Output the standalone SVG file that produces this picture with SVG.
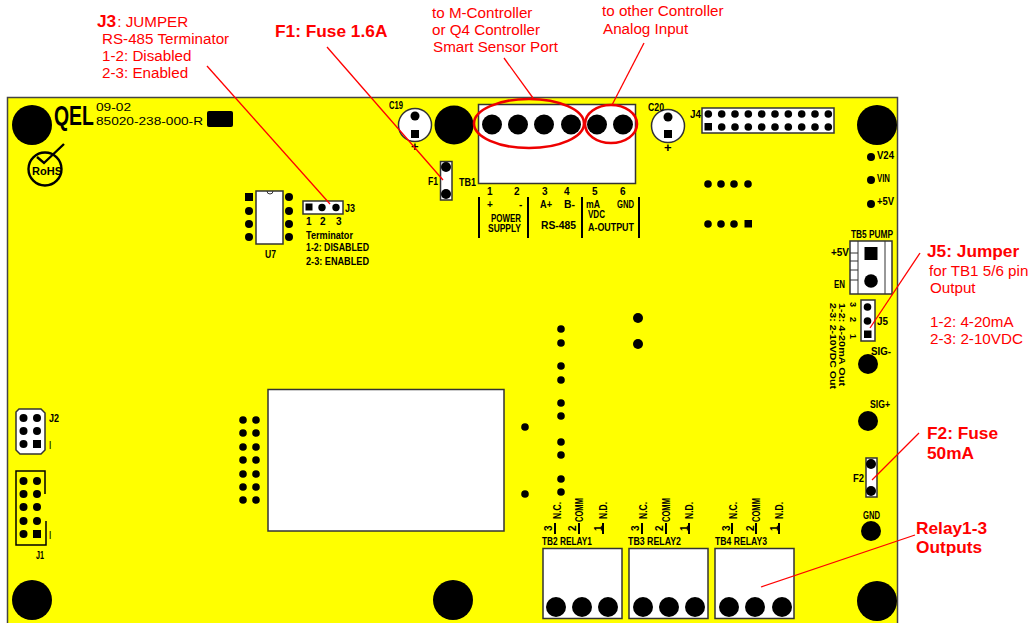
<svg xmlns="http://www.w3.org/2000/svg" width="1030" height="623" viewBox="0 0 1030 623">
<style>
.w{fill:#fff;stroke:#333;stroke-width:1.5}
.k{fill:#000;stroke:none}
.pl{stroke:#000;stroke-width:2;fill:none}
.t{font-family:"Liberation Sans",Arial,sans-serif;font-weight:bold;font-size:10px;fill:#000;stroke:none}
.r{font-family:"Liberation Sans",Arial,sans-serif;font-size:15.200px;fill:#f00}
.rb{font-family:"Liberation Sans",Arial,sans-serif;font-size:17.300px;font-weight:bold;fill:#f00}
.c{stroke:#f00;stroke-width:1.3;fill:none}
.e{stroke:#e00;stroke-width:2.6;fill:none}
</style>
<rect width="1030" height="623" fill="#fff"/>
<g id="board">
<rect x="7.500" y="97.500" width="890" height="540" fill="#ff0" stroke="#444" stroke-width="1.500"/>
<g class="k">
<circle cx="32" cy="125" r="20"/><circle cx="454" cy="125" r="19.500"/><circle cx="877" cy="125" r="20"/>
<circle cx="32" cy="600" r="20"/><circle cx="453" cy="600" r="20"/><circle cx="877" cy="601" r="20"/>
</g>
<text class="t" transform="translate(54 125) scale(0.97 1.400)" style="font-size:20px">QEL</text>
<text class="t" x="96" y="111" style="font-size:10px;font-weight:normal" textLength="35" lengthAdjust="spacingAndGlyphs">09-02</text>
<text class="t" x="96" y="125" style="font-size:11.500px;font-weight:normal" textLength="107" lengthAdjust="spacingAndGlyphs">85020-238-000-R</text>
<rect class="k" x="207" y="111" width="26" height="16" rx="2"/>
</g>
<g id="rohs">
<circle cx="45" cy="169" r="16.500" fill="none" stroke="#000" stroke-width="2.400"/>
<path d="M37 157L44 163L64 144" fill="none" stroke="#000" stroke-width="2.400"/>
<text class="t" x="32" y="175" style="font-size:11px" textLength="30" lengthAdjust="spacingAndGlyphs">RoHS</text>
</g>
<g id="u7">
<rect class="w" x="256" y="191" width="27" height="53"/>
<path d="M267 191a3 3 0 0 0 6 0" fill="none" stroke="#333"/>
<rect class="k" x="245" y="193" width="8" height="8"/>
<g class="k"><circle cx="249" cy="211" r="4"/><circle cx="249" cy="224" r="4"/><circle cx="249" cy="237" r="4"/><circle cx="289" cy="197" r="4"/><circle cx="289" cy="211" r="4"/><circle cx="289" cy="224" r="4"/><circle cx="289" cy="237" r="4"/></g>
<text class="t" x="265" y="258" textLength="11" lengthAdjust="spacingAndGlyphs">U7</text>
</g>
<g id="j3">
<rect class="w" x="303" y="201" width="40" height="13"/>
<rect class="k" x="305.500" y="203.500" width="7" height="7"/>
<circle class="k" cx="322" cy="207.500" r="3.700"/><circle class="k" cx="336" cy="207.500" r="3.700"/>
<text class="t" x="345" y="212" textLength="10" lengthAdjust="spacingAndGlyphs">J3</text>
<text class="t" x="306" y="225">1</text><text class="t" x="320" y="225">2</text><text class="t" x="336" y="225">3</text>
<text class="t" x="306" y="239" textLength="47" lengthAdjust="spacingAndGlyphs">Terminator</text>
<text class="t" x="306" y="251" textLength="63" lengthAdjust="spacingAndGlyphs">1-2: DISABLED</text>
<text class="t" x="306" y="265" textLength="63" lengthAdjust="spacingAndGlyphs">2-3: ENABLED</text>
</g>
<g id="c19">
<circle class="w" cx="415" cy="125" r="16.500"/>
<circle class="k" cx="415" cy="116" r="4.500"/><rect class="k" x="411" y="130" width="8" height="8"/>
<text class="t" x="389" y="109" textLength="14" lengthAdjust="spacingAndGlyphs">C19</text>
<text class="t" x="411" y="151" style="font-size:13px">+</text>
</g>
<g id="f1">
<rect class="w" x="440.500" y="161.500" width="11.500" height="38.500"/>
<circle class="k" cx="446" cy="167" r="5"/><circle class="k" cx="446" cy="194" r="5"/>
<text class="t" x="428" y="185" textLength="10" lengthAdjust="spacingAndGlyphs">F1</text>
<text class="t" x="459" y="186" style="font-size:11px" textLength="17" lengthAdjust="spacingAndGlyphs">TB1</text>
</g>
<g id="tb1">
<rect class="w" x="478.500" y="104.500" width="157" height="79"/>
<g class="k"><circle cx="492" cy="124.500" r="10"/><circle cx="518" cy="124.500" r="10"/><circle cx="544" cy="124.500" r="10"/><circle cx="571" cy="124.500" r="10"/><circle cx="597" cy="124.500" r="10"/><circle cx="623" cy="124.500" r="10"/></g>
<g class="pl"><path d="M479 197V238M528 197V238M582 197V238M639 197V238"/></g>
<text class="t" x="487" y="195">1</text><text class="t" x="514" y="195">2</text><text class="t" x="542" y="195">3</text><text class="t" x="564" y="195">4</text><text class="t" x="592" y="195">5</text><text class="t" x="620" y="195">6</text>
<text class="t" x="487" y="208">+</text><text class="t" x="519" y="208">-</text><text class="t" x="540" y="208" textLength="12" lengthAdjust="spacingAndGlyphs">A+</text><text class="t" x="564" y="208" textLength="11" lengthAdjust="spacingAndGlyphs">B-</text>
<text class="t" x="586" y="208" textLength="14" lengthAdjust="spacingAndGlyphs">mA</text><text class="t" x="617" y="208" textLength="17" lengthAdjust="spacingAndGlyphs">GND</text>
<text class="t" x="588" y="218" textLength="17" lengthAdjust="spacingAndGlyphs">VDC</text>
<text class="t" x="491" y="222" textLength="30" lengthAdjust="spacingAndGlyphs">POWER</text>
<text class="t" x="488" y="232" textLength="33" lengthAdjust="spacingAndGlyphs">SUPPLY</text>
<text class="t" x="541" y="229" textLength="35" lengthAdjust="spacingAndGlyphs">RS-485</text>
<text class="t" x="588" y="231" textLength="46" lengthAdjust="spacingAndGlyphs">A-OUTPUT</text>
</g>
<g id="c20">
<circle class="w" cx="668" cy="126" r="16.500"/>
<circle class="k" cx="668" cy="117" r="4.500"/><rect class="k" x="664" y="130" width="8" height="8"/>
<text class="t" x="648" y="111" textLength="16" lengthAdjust="spacingAndGlyphs">C20</text>
<text class="t" x="664" y="152" style="font-size:13px">+</text>
</g>
<g id="j4">
<rect class="w" x="702" y="108" width="132" height="25"/>
<text class="t" x="690" y="118" textLength="11" lengthAdjust="spacingAndGlyphs">J4</text>
<g class="k">
<circle cx="708.300" cy="114" r="3.800"/><circle cx="721.700" cy="114" r="3.800"/><circle cx="735" cy="114" r="3.800"/><circle cx="748.300" cy="114" r="3.800"/><circle cx="761.700" cy="114" r="3.800"/><circle cx="775" cy="114" r="3.800"/><circle cx="788.300" cy="114" r="3.800"/><circle cx="801.700" cy="114" r="3.800"/><circle cx="815" cy="114" r="3.800"/><circle cx="828.300" cy="114" r="3.800"/>
<rect x="704.500" y="123" width="7.500" height="7.500"/><circle cx="721.700" cy="127" r="3.800"/><circle cx="735" cy="127" r="3.800"/><circle cx="748.300" cy="127" r="3.800"/><circle cx="761.700" cy="127" r="3.800"/><circle cx="775" cy="127" r="3.800"/><circle cx="788.300" cy="127" r="3.800"/><circle cx="801.700" cy="127" r="3.800"/><circle cx="815" cy="127" r="3.800"/><circle cx="828.300" cy="127" r="3.800"/>
</g>
</g>
<g id="pads" class="k">
<circle cx="708" cy="184" r="3.800"/><circle cx="721" cy="184" r="3.800"/><circle cx="734" cy="184" r="3.800"/><circle cx="748" cy="184" r="3.800"/>
<circle cx="708" cy="224" r="3.800"/><circle cx="721" cy="224" r="3.800"/><circle cx="734" cy="224" r="3.800"/><rect x="744.500" y="220" width="7.500" height="7.500"/>
<circle cx="638" cy="318" r="5"/><circle cx="638" cy="344" r="5"/>
<circle cx="561" cy="329" r="3.800"/><circle cx="561" cy="343" r="3.800"/><circle cx="561" cy="366" r="3.800"/><circle cx="561" cy="380" r="3.800"/><circle cx="561" cy="403" r="3.800"/><circle cx="561" cy="416" r="3.800"/><circle cx="561" cy="442" r="3.800"/><circle cx="561" cy="455" r="3.800"/><circle cx="561" cy="479" r="3.800"/><circle cx="561" cy="492" r="3.800"/>
<circle cx="525" cy="427" r="3.800"/><circle cx="525" cy="494" r="3.800"/>
<circle cx="243" cy="420" r="3.800"/><circle cx="256" cy="420" r="3.800"/><circle cx="243" cy="433" r="3.800"/><circle cx="256" cy="433" r="3.800"/><circle cx="243" cy="447" r="3.800"/><circle cx="256" cy="447" r="3.800"/><circle cx="243" cy="460" r="3.800"/><circle cx="256" cy="460" r="3.800"/><circle cx="243" cy="474" r="3.800"/><circle cx="256" cy="474" r="3.800"/><circle cx="243" cy="487" r="3.800"/><circle cx="256" cy="487" r="3.800"/><circle cx="243" cy="500" r="3.800"/><circle cx="256" cy="500" r="3.800"/>
</g>
<g id="module"><rect class="w" x="268" y="389.500" width="236" height="141.500"/></g>
<g id="testpoints">
<g class="k"><circle cx="871" cy="157" r="4"/><circle cx="871" cy="180" r="4"/><circle cx="871" cy="204" r="4"/><circle cx="868" cy="364" r="10"/><circle cx="868" cy="421" r="10"/><circle cx="871" cy="531" r="10"/></g>
<text class="t" x="877" y="159" textLength="17" lengthAdjust="spacingAndGlyphs">V24</text>
<text class="t" x="877" y="182" textLength="13" lengthAdjust="spacingAndGlyphs">VIN</text>
<text class="t" x="877" y="205" textLength="17" lengthAdjust="spacingAndGlyphs">+5V</text>
<text class="t" x="871" y="355" textLength="20" lengthAdjust="spacingAndGlyphs">SIG-</text>
<text class="t" x="870" y="408" textLength="20" lengthAdjust="spacingAndGlyphs">SIG+</text>
<text class="t" x="863" y="519" textLength="17" lengthAdjust="spacingAndGlyphs">GND</text>
</g>
<g id="tb5">
<rect class="w" x="850" y="241" width="42" height="53"/>
<path d="M858 241V294M885 241V294M850 253H858M850 261H858M850 270H858M850 280H858" stroke="#333" fill="none"/>
<rect class="k" x="864.500" y="247" width="13" height="13"/><circle class="k" cx="871" cy="281" r="6.800"/>
<text class="t" x="851" y="238" textLength="42" lengthAdjust="spacingAndGlyphs">TB5 PUMP</text>
<text class="t" x="831" y="256" textLength="18" lengthAdjust="spacingAndGlyphs">+5V</text>
<text class="t" x="834" y="288" textLength="11" lengthAdjust="spacingAndGlyphs">EN</text>
</g>
<g id="j5">
<rect class="w" x="861" y="300" width="14" height="41"/>
<circle class="k" cx="867.500" cy="307" r="3.800"/><circle class="k" cx="867.500" cy="321" r="3.800"/><rect class="k" x="864" y="330.500" width="7.500" height="7.500"/>
<text class="t" x="877" y="325" textLength="11" lengthAdjust="spacingAndGlyphs">J5</text>
<text class="t" transform="translate(850 302) rotate(90)" style="font-size:9px">3</text>
<text class="t" transform="translate(850 317) rotate(90)" style="font-size:9px">2</text>
<text class="t" transform="translate(850 334) rotate(90)" style="font-size:9px">1</text>
<text class="t" transform="translate(839 303) rotate(90)" textLength="83" lengthAdjust="spacingAndGlyphs" style="font-size:9.500px">1-2: 4-20mA  Out</text>
<text class="t" transform="translate(830 303) rotate(90)" textLength="86" lengthAdjust="spacingAndGlyphs" style="font-size:9.500px">2-3: 2-10VDC  Out</text>
</g>
<g id="f2">
<rect class="w" x="866" y="458" width="11" height="39"/>
<circle class="k" cx="871" cy="464" r="5"/><circle class="k" cx="871" cy="491" r="5"/>
<text class="t" x="853" y="482" textLength="11" lengthAdjust="spacingAndGlyphs">F2</text>
</g>
<g id="j2">
<path class="w" d="M19 409H41L45 413V450L41 454H20L16 450V412Z"/>
<g class="k"><circle cx="23.500" cy="418" r="4"/><circle cx="37" cy="418" r="4"/><circle cx="23.500" cy="431" r="4"/><circle cx="37" cy="431" r="4"/><circle cx="23.500" cy="444" r="4"/><rect x="33" y="440" width="8" height="8"/></g>
<text class="t" x="49" y="422" textLength="10" lengthAdjust="spacingAndGlyphs">J2</text>
<text class="t" x="49" y="449" style="font-weight:normal">l</text>
</g>
<g id="j1">
<path d="M45 494V471H16V545H46V521" fill="none" stroke="#000" stroke-width="1.500"/>
<g class="k"><circle cx="23.500" cy="481" r="4"/><circle cx="37" cy="481" r="4"/><circle cx="23.500" cy="494" r="4"/><circle cx="37" cy="494" r="4"/><circle cx="23.500" cy="507" r="4"/><circle cx="37" cy="507" r="4"/><circle cx="23.500" cy="521" r="4"/><circle cx="37" cy="521" r="4"/><circle cx="23.500" cy="534" r="4"/><rect x="33" y="530" width="8" height="8"/></g>
<text class="t" x="36" y="559" textLength="8" lengthAdjust="spacingAndGlyphs">J1</text>
<text class="t" x="49" y="539" style="font-weight:normal">l</text>
</g>
<g id="tb2">
<rect class="w" x="543" y="548.500" width="79" height="70"/>
<g class="k"><circle cx="556" cy="607" r="10"/><circle cx="582" cy="607" r="10"/><circle cx="608" cy="607" r="10"/></g>
<text class="t" x="542" y="545" textLength="50" lengthAdjust="spacingAndGlyphs">TB2 RELAY1</text>
<path class="pl" d="M555 523V534M579 523V534M603 523V534" stroke-width="1.500"/>
<text class="t" transform="translate(561 519) rotate(-90)" textLength="17" lengthAdjust="spacingAndGlyphs">N.C.</text>
<text class="t" transform="translate(583 522) rotate(-90)" textLength="24" lengthAdjust="spacingAndGlyphs">COMM</text>
<text class="t" transform="translate(607 519) rotate(-90)" textLength="17" lengthAdjust="spacingAndGlyphs">N.D.</text>
<text class="t" transform="translate(552 531) rotate(-90)">3</text>
<text class="t" transform="translate(576 531) rotate(-90)">2</text>
<text class="t" transform="translate(602 531) rotate(-90)">1</text>
</g>
<g id="tb3">
<rect class="w" x="629" y="548.500" width="79" height="70"/>
<g class="k"><circle cx="643" cy="607" r="10"/><circle cx="669" cy="607" r="10"/><circle cx="695" cy="607" r="10"/></g>
<text class="t" x="628" y="545" textLength="53" lengthAdjust="spacingAndGlyphs">TB3 RELAY2</text>
<path class="pl" d="M642 523V534M666 523V534M689 523V534" stroke-width="1.500"/>
<text class="t" transform="translate(647 519) rotate(-90)" textLength="17" lengthAdjust="spacingAndGlyphs">N.C.</text>
<text class="t" transform="translate(670 522) rotate(-90)" textLength="24" lengthAdjust="spacingAndGlyphs">COMM</text>
<text class="t" transform="translate(693 519) rotate(-90)" textLength="17" lengthAdjust="spacingAndGlyphs">N.D.</text>
<text class="t" transform="translate(639 531) rotate(-90)">3</text>
<text class="t" transform="translate(663 531) rotate(-90)">2</text>
<text class="t" transform="translate(688 531) rotate(-90)">1</text>
</g>
<g id="tb4">
<rect class="w" x="715" y="548.500" width="79" height="70"/>
<g class="k"><circle cx="729" cy="607" r="10"/><circle cx="755" cy="607" r="10"/><circle cx="782" cy="607" r="10"/></g>
<text class="t" x="715" y="545" textLength="52" lengthAdjust="spacingAndGlyphs">TB4 RELAY3</text>
<path class="pl" d="M732 523V534M756 523V534M779 523V534" stroke-width="1.500"/>
<text class="t" transform="translate(737 519) rotate(-90)" textLength="17" lengthAdjust="spacingAndGlyphs">N.C.</text>
<text class="t" transform="translate(760 522) rotate(-90)" textLength="24" lengthAdjust="spacingAndGlyphs">COMM</text>
<text class="t" transform="translate(783 519) rotate(-90)" textLength="17" lengthAdjust="spacingAndGlyphs">N.D.</text>
<text class="t" transform="translate(730 531) rotate(-90)">3</text>
<text class="t" transform="translate(754 531) rotate(-90)">2</text>
<text class="t" transform="translate(778 531) rotate(-90)">1</text>
</g>
<g id="connectors">
<ellipse class="e" cx="529" cy="123.500" rx="55" ry="24.500"/>
<ellipse class="e" cx="611" cy="124" rx="26" ry="19"/>
<path class="c" d="M207 66L330 204"/>
<path class="c" d="M327 47L443 180"/>
<path class="c" d="M504 58L533 98"/>
<path class="c" d="M644 43L612 105"/>
<path class="c" d="M920 253L870 328"/>
<path class="c" d="M919 433L872 480"/>
<path class="c" d="M915 535L761 587" stroke-width="1.600"/>
</g>
<g id="callouts">
<text x="97" y="27"><tspan class="rb">J3</tspan><tspan class="r" dx="1">: JUMPER</tspan></text>
<text class="r" x="102" y="44">RS-485 Terminator</text>
<text class="r" x="102" y="61">1-2: Disabled</text>
<text class="r" x="102" y="78">2-3: Enabled</text>
<text class="rb" x="275" y="37">F1: Fuse 1.6A</text>
<text class="r" x="432" y="18">to M-Controller</text>
<text class="r" x="432" y="35">or Q4 Controller</text>
<text class="r" x="433" y="52">Smart Sensor Port</text>
<text class="r" x="602" y="16">to other Controller</text>
<text class="r" x="603" y="34">Analog Input</text>
<text class="rb" x="927" y="257">J5: Jumper</text>
<text class="r" x="929" y="276">for TB1 5/6 pin</text>
<text class="r" x="930" y="293">Output</text>
<text class="r" x="930" y="327">1-2: 4-20mA</text>
<text class="r" x="930" y="344">2-3: 2-10VDC</text>
<text class="rb" x="927" y="439">F2: Fuse</text>
<text class="rb" x="927" y="459">50mA</text>
<text class="rb" x="916" y="534">Relay1-3</text>
<text class="rb" x="916" y="553">Outputs</text>
</g>
</svg>
